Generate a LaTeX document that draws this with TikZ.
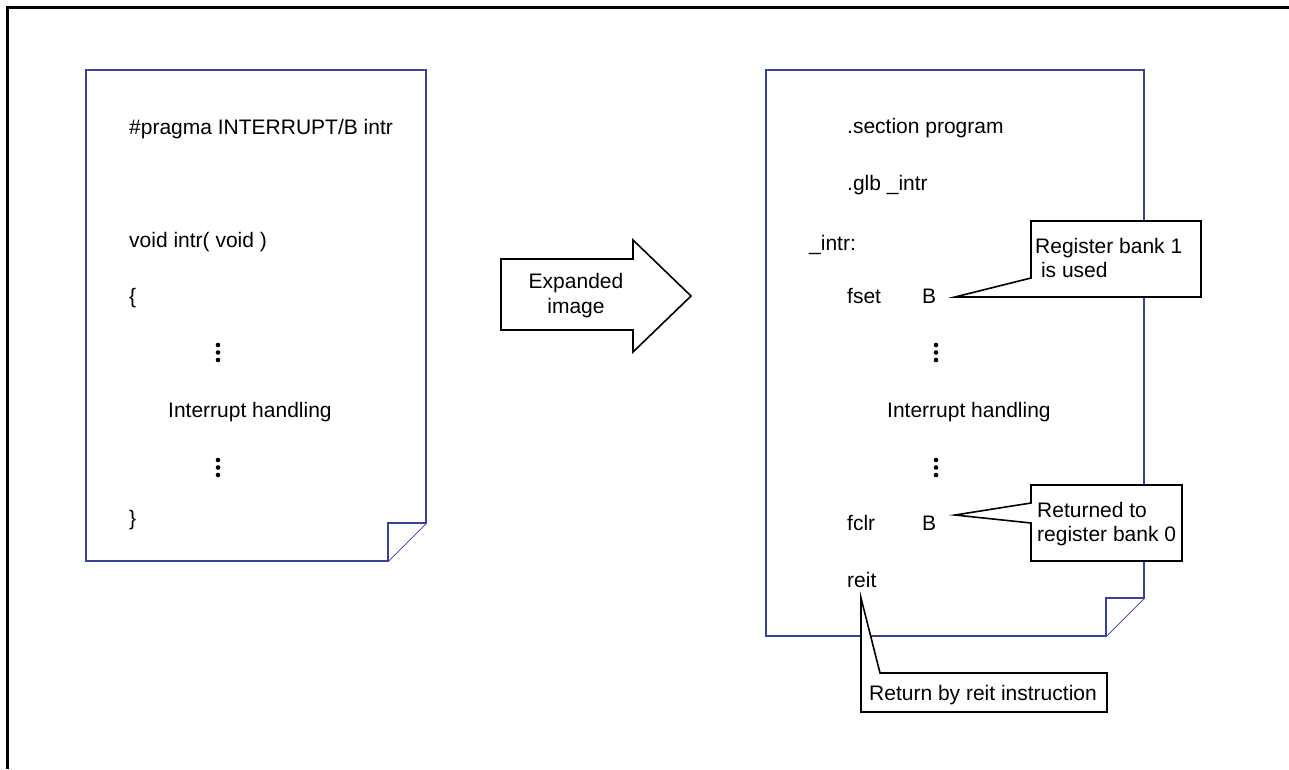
\documentclass[tikz,border=0pt]{standalone}
\usepackage{fontspec}
\setmainfont{Liberation Sans}
\definecolor{docblue}{RGB}{55,65,160}
\tikzset{
  doc/.style={draw=docblue, line width=1.9pt, fill=white, line join=miter},
  txt/.style={anchor=base west, inner sep=0pt, font=\fontsize{21}{24}\selectfont},
  callout/.style={draw=black, line width=1.6pt, fill=white, line join=miter},
  ctext/.style={anchor=base west, inner sep=0pt, align=left, font=\fontsize{21}{24}\selectfont},
  dotmark/.style={fill=black, draw=none},
}
\newcommand\mydots[2]{%
  \fill[dotmark] (#1,#2) circle (2.3);
  \fill[dotmark] (#1,#2+7.5) circle (2.3);
  \fill[dotmark] (#1,#2+15) circle (2.3);}
\begin{document}
\begin{tikzpicture}[x=1pt,y=-1pt]
\useasboundingbox (0,0) rectangle (1289,769);
% outer frame (top and left)
\draw[line width=3pt] (7,769) -- (7,7) -- (1289,7);

% ---------- left document ----------
\draw[doc] (86,70) -- (426,70) -- (426,523) -- (388,561) -- (86,561) -- cycle;
\draw[doc] (388,561) -- (388,523) -- (426,523);
\node[txt] (l1) at (129,134) {\#pragma INTERRUPT/B intr};
\node[txt] (l2) at (129,247) {void intr( void )};
\node[txt] (l3) at (129,303) {\{};
\mydots{218}{345}
\node[txt] (l4) at (168,417) {Interrupt handling};
\mydots{218}{460}
\node[txt] (l5) at (129,525) {\}};

% ---------- expanded-image arrow ----------
\draw[line width=1.6pt, fill=white, line join=miter]
  (501,259) -- (633,259) -- (633,240) -- (691,296) -- (633,352) -- (633,330) -- (501,330) -- cycle;
\node[align=center, inner sep=0pt, font=\fontsize{21}{25}\selectfont] (arr) at (576,296) {Expanded\\image};

% ---------- right document ----------
\draw[doc] (766,70) -- (1144,70) -- (1144,598) -- (1106,636) -- (766,636) -- cycle;
\draw[doc] (1106,636) -- (1106,598) -- (1144,598);
\node[txt] (r1) at (847,133) {.section program};
\node[txt] (r2) at (847,190) {.glb \_intr};
\node[txt] (r3) at (809,250) {\_intr:};
\node[txt] (r4) at (847,303) {fset};
\node[txt] (r4b) at (922,303) {B};
\mydots{936}{345}
\node[txt] (r5) at (887,417) {Interrupt handling};
\mydots{936}{460}
\node[txt] (r6) at (847,530) {fclr};
\node[txt] (r6b) at (922,530) {B};
\node[txt] (r7) at (847,587) {reit};

% ---------- callouts ----------
\draw[callout] (1031,221) -- (1201,221) -- (1201,297) -- (955,297) -- (1031,278) -- cycle;
\node[ctext] (c1) at (1035,277) {Register bank 1\\ \ is used};

\draw[callout] (1031,485) -- (1182,485) -- (1182,561) -- (1031,561) -- (1031,523) -- (955,515) -- (1031,503) -- cycle;
\node[ctext] (c2) at (1037,541) {Returned to\\register bank 0};

\draw[callout] (861,598) -- (880,673) -- (1107,673) -- (1107,712) -- (861,712) -- cycle;
\node[ctext] (c3) at (869,700) {Return by reit instruction};
\end{tikzpicture}
\end{document}
